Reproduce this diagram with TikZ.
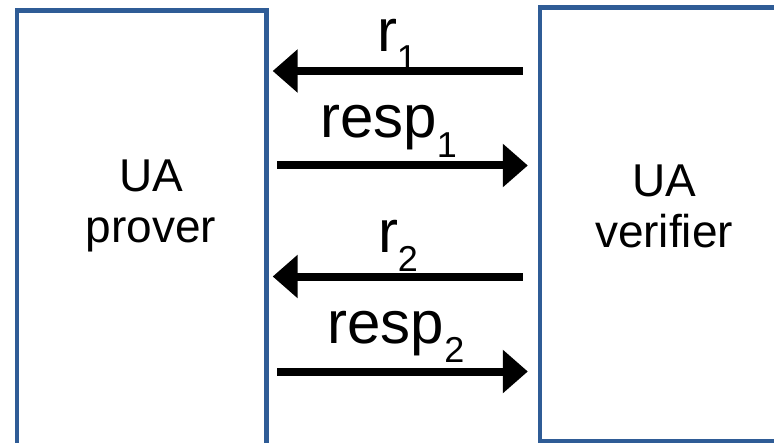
\documentclass[tikz,border=0pt]{standalone}
\usepackage{fontspec}
\setmainfont{Liberation Sans}
\usetikzlibrary{arrows.meta,positioning}
\definecolor{boxblue}{RGB}{47,92,150}
\newcommand{\lowidx}[1]{\raisebox{-9.5pt}{\fontsize{18}{18}\selectfont #1}}

\begin{document}
\begin{tikzpicture}
	[x=0.5pt,y=-0.5pt,
	party/.style={shape=rectangle,draw=boxblue,line width=2.2pt},
	who/.style={align=center,font=\fontsize{23}{25.5}\selectfont},
	lbl/.style={anchor=base,inner sep=0pt,font=\fontsize{30}{30}\selectfont},
	msg/.style={line width=4pt,-{Triangle[length=12.5pt,width=21pt]}}
	]
	\useasboundingbox (0,0) rectangle (774,443);

	\node [party,minimum width=124.75pt,minimum height=244.75pt] (prover) at (141.75,255.25) {};
	\node [party,minimum width=124pt,minimum height=216.75pt] (verifier) at (664,224.25) {};

	\node [who] (provertext) at (151,206) {UA\\prover};
	\node [who] (verifiertext) at (664,206) {UA\\verifier};

	% heights of the four messages
	\coordinate (m1) at (0,71);
	\coordinate (m2) at (0,165.5);
	\coordinate (m3) at (0,276.5);
	\coordinate (m4) at (0,371.5);

	\node [lbl] (r1) at (397,52) {r\lowidx{1}};
	\node [lbl] (resp1) at (388.5,138) {resp\lowidx{1}};
	\node [lbl] (r2) at (398,252) {r\lowidx{2}};
	\node [lbl] (resp2) at (396,343) {resp\lowidx{2}};

	\path[msg]
	(verifier.west |- m1) edge[shorten <=7.5pt,shorten >=2pt] (prover.east |- m1)
	(prover.east |- m2) edge[shorten <=4.25pt,shorten >=5pt] (verifier.west |- m2)
	(verifier.west |- m3) edge[shorten <=7.5pt,shorten >=2pt] (prover.east |- m3)
	(prover.east |- m4) edge[shorten <=4.25pt,shorten >=5pt] (verifier.west |- m4)
	;
\end{tikzpicture}
\end{document}
